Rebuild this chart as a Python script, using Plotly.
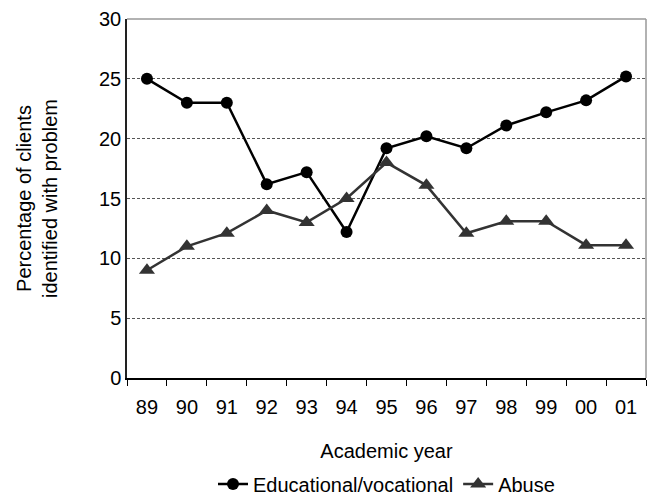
import plotly.graph_objects as go

years = ["89", "90", "91", "92", "93", "94", "95", "96", "97", "98", "99", "00", "01"]
educational = [25, 23, 23, 16.2, 17.2, 12.2, 19.2, 20.2, 19.2, 21.1, 22.2, 23.2, 25.2]
abuse = [9, 11, 12.1, 14, 13, 15, 18, 16.1, 12.1, 13.1, 13.1, 11.1, 11.1]

fig = go.Figure()
fig.add_trace(go.Scatter(
    x=years, y=educational, name="Educational/vocational", mode="lines+markers",
    line=dict(color="#000000", width=2.5),
    marker=dict(symbol="circle", size=12, color="#000000"),
))
fig.add_trace(go.Scatter(
    x=years, y=abuse, name="Abuse", mode="lines+markers",
    line=dict(color="#333333", width=2.5),
    marker=dict(symbol="triangle-up", size=14, color="#333333"),
))

fig.update_layout(
    width=650, height=495,
    margin=dict(l=127, r=4, t=19, b=117, autoexpand=False),
    paper_bgcolor="white", plot_bgcolor="white",
    font=dict(family="Liberation Sans, Arial, sans-serif", size=20, color="#000000"),
    showlegend=True,
    legend=dict(orientation="h", x=0.5, xanchor="center", y=-0.295, yanchor="middle",
                font=dict(size=20), tracegroupgap=0),
    xaxis=dict(
        type="category", range=[-0.5, 12.5],
        tickson="boundaries", ticks="outside", ticklen=6, tickcolor="#000000",
        showline=True, linecolor="#000000", linewidth=1.5, mirror=False,
        showgrid=False, automargin=False, ticklabelstandoff=10,
        tickfont=dict(size=20),
        title=dict(text="Academic year", font=dict(size=20), standoff=27),
    ),
    yaxis=dict(
        range=[0, 30], dtick=5, tick0=0,
        showline=True, linecolor="#222222", linewidth=1.5,
        ticks="", showgrid=True, gridcolor="#555555", griddash="3px,2px", gridwidth=1,
        zeroline=False, automargin=False,
        tickfont=dict(size=20),
        title=dict(text="Percentage of clients<br>identified with problem", font=dict(size=20), standoff=36),
    ),
)

# top and right frame of plot area (gray)
fig.add_shape(type="line", xref="paper", yref="paper", x0=0, x1=1, y0=1, y1=1,
              line=dict(color="#999999", width=1.5))
fig.add_shape(type="line", xref="paper", yref="paper", x0=1, x1=1, y0=0, y1=1,
              line=dict(color="#999999", width=1.5))

fig.write_html(
    "out.html",
    config={"responsive": False, "displayModeBar": False},
    post_script="document.body.style.margin='0';document.body.style.overflow='hidden';",
)
